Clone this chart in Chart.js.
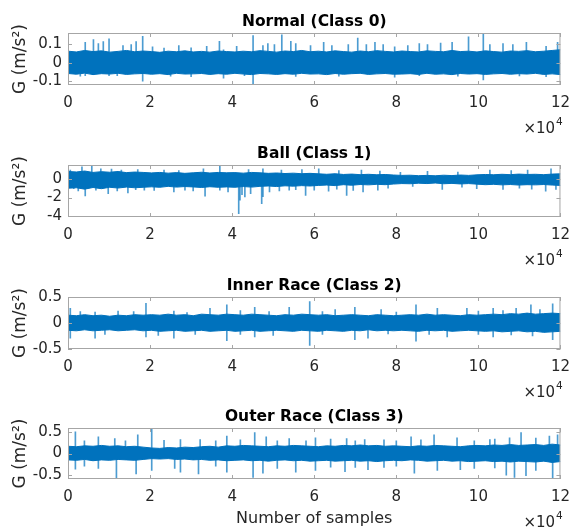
<!DOCTYPE html>
<html>
<head>
<meta charset="utf-8">
<script src="https://cdn.jsdelivr.net/npm/chart.js@4.4.1/dist/chart.umd.min.js"></script>
<style>
	html, body { margin: 0; padding: 0; background: #fff; }
	body { width: 579px; height: 530px; position: relative; overflow: hidden; }
	.painel { position: absolute; left: 0; width: 579px; }
</style>
</head>
<body>
<div class="painel" style="top:0;height:140px"><canvas id="g0"></canvas></div>
<div class="painel" style="top:132px;height:140px"><canvas id="g1"></canvas></div>
<div class="painel" style="top:264px;height:140px"><canvas id="g2"></canvas></div>
<div class="painel" style="top:395px;height:135px"><canvas id="g3"></canvas></div>
<script>
// Títulos e eixos
const titulos = ["Normal (Class 0)", "Ball (Class 1)", "Inner Race (Class 2)", "Outer Race (Class 3)"];
const ticksX = [0, 20000, 40000, 60000, 80000, 100000, 120000];
const ticksY0 = [-0.1, 0, 0.1];
const ticksY1 = [-4, -2, 0];
const ticksY2 = [-0.5, 0, 0.5];
const ticksY3 = [-0.5, 0, 0.5];
const limitesY = [[-0.12, 0.16], [-4.1, 1.5], [-0.5, 0.5], [-0.6, 0.6]];

// Envelope do núcleo do sinal (60 blocos de 2000 amostras)
const nucleoMax0 = [0.062,0.058,0.066,0.060,0.064,0.057,0.061,0.066,0.059,0.063,0.060,0.056,0.062,0.059,0.064,0.058,0.061,0.057,0.063,0.060,0.058,0.062,0.059,0.065,0.061,0.057,0.063,0.060,0.066,0.059,0.062,0.058,0.064,0.060,0.057,0.063,0.059,0.065,0.061,0.058,0.063,0.060,0.058,0.064,0.061,0.059,0.066,0.060,0.062,0.058,0.064,0.060,0.057,0.063,0.061,0.065,0.059,0.062,0.066,0.070];
const nucleoMin0 = [-0.058,-0.062,-0.056,-0.064,-0.059,-0.061,-0.057,-0.063,-0.060,-0.058,-0.062,-0.059,-0.064,-0.057,-0.061,-0.060,-0.058,-0.063,-0.059,-0.062,-0.057,-0.061,-0.064,-0.058,-0.060,-0.063,-0.059,-0.062,-0.057,-0.061,-0.060,-0.064,-0.058,-0.062,-0.059,-0.057,-0.063,-0.060,-0.058,-0.062,-0.061,-0.059,-0.063,-0.057,-0.062,-0.060,-0.064,-0.058,-0.061,-0.059,-0.063,-0.060,-0.058,-0.062,-0.059,-0.061,-0.057,-0.063,-0.060,-0.064];
const nucleoMax1 = [0.80,0.75,0.85,0.70,0.78,0.72,0.80,0.68,0.74,0.70,0.65,0.70,0.62,0.68,0.60,0.66,0.72,0.64,0.70,0.66,0.68,0.62,0.70,0.66,0.60,0.64,0.58,0.62,0.56,0.60,0.55,0.50,0.56,0.48,0.52,0.46,0.50,0.45,0.48,0.42,0.38,0.40,0.35,0.38,0.34,0.40,0.36,0.42,0.38,0.44,0.48,0.45,0.50,0.46,0.52,0.48,0.50,0.46,0.52,0.55];
const nucleoMin1 = [-1.00,-0.95,-1.10,-0.92,-1.05,-0.90,-0.98,-0.88,-0.95,-0.90,-0.85,-0.90,-0.80,-0.88,-0.82,-0.86,-0.92,-0.84,-0.90,-0.86,-0.90,-0.82,-0.88,-0.80,-0.76,-0.82,-0.74,-0.78,-0.72,-0.76,-0.70,-0.66,-0.72,-0.62,-0.68,-0.60,-0.64,-0.58,-0.62,-0.55,-0.50,-0.52,-0.46,-0.50,-0.44,-0.52,-0.48,-0.54,-0.50,-0.56,-0.62,-0.58,-0.64,-0.60,-0.66,-0.62,-0.64,-0.60,-0.66,-0.70];
const nucleoMax2 = [0.15,0.14,0.16,0.14,0.15,0.13,0.15,0.14,0.16,0.15,0.16,0.15,0.17,0.15,0.16,0.14,0.17,0.16,0.15,0.17,0.16,0.15,0.17,0.16,0.15,0.14,0.16,0.15,0.17,0.16,0.15,0.16,0.14,0.15,0.16,0.15,0.14,0.16,0.15,0.14,0.15,0.16,0.15,0.17,0.15,0.16,0.15,0.14,0.16,0.15,0.16,0.17,0.16,0.18,0.17,0.19,0.17,0.18,0.19,0.18];
const nucleoMin2 = [-0.14,-0.15,-0.13,-0.15,-0.14,-0.13,-0.15,-0.14,-0.13,-0.15,-0.14,-0.16,-0.15,-0.14,-0.16,-0.15,-0.14,-0.16,-0.15,-0.14,-0.16,-0.15,-0.14,-0.16,-0.15,-0.14,-0.15,-0.16,-0.14,-0.15,-0.16,-0.14,-0.15,-0.16,-0.14,-0.15,-0.13,-0.15,-0.14,-0.15,-0.14,-0.15,-0.16,-0.14,-0.15,-0.14,-0.16,-0.15,-0.14,-0.15,-0.16,-0.15,-0.17,-0.16,-0.15,-0.17,-0.16,-0.18,-0.17,-0.16];
const nucleoMax3 = [0.17,0.16,0.18,0.17,0.19,0.17,0.18,0.16,0.17,0.15,0.13,0.12,0.14,0.13,0.15,0.14,0.16,0.17,0.15,0.18,0.17,0.19,0.18,0.17,0.16,0.18,0.17,0.19,0.18,0.17,0.16,0.18,0.17,0.19,0.18,0.20,0.18,0.19,0.17,0.18,0.17,0.16,0.18,0.17,0.19,0.18,0.17,0.16,0.18,0.19,0.18,0.20,0.19,0.21,0.19,0.20,0.21,0.19,0.22,0.20];
const nucleoMin3 = [-0.15,-0.16,-0.14,-0.17,-0.15,-0.16,-0.14,-0.15,-0.16,-0.14,-0.12,-0.13,-0.12,-0.14,-0.13,-0.15,-0.14,-0.16,-0.15,-0.17,-0.16,-0.15,-0.17,-0.16,-0.18,-0.16,-0.15,-0.17,-0.16,-0.18,-0.17,-0.16,-0.18,-0.17,-0.16,-0.18,-0.17,-0.19,-0.17,-0.16,-0.17,-0.15,-0.16,-0.18,-0.17,-0.16,-0.18,-0.17,-0.19,-0.18,-0.17,-0.19,-0.18,-0.20,-0.18,-0.19,-0.20,-0.18,-0.21,-0.19];

// Picos isolados: amostra, mínimo e máximo
const picosX0 = [3000,4200,6200,7400,8600,10000,12000,13400,15400,16600,18200,20600,23400,25000,27000,30000,33800,36900,37900,41100,43000,45100,47500,48700,50300,52100,54300,55500,59100,62300,64300,66000,68300,70600,72700,74800,76800,79600,82800,85600,87600,90800,93600,95000,97600,101200,102800,106000,108400,110000,111700,116500,119300];
const picosMin0 = [-0.072,-0.07,-0.065,0,0,-0.07,-0.07,0,0,0,-0.10,0,0,-0.072,0,-0.075,0,0,-0.083,0,-0.07,-0.119,0,0,0,0,0,-0.074,0,0,0,-0.072,0,0,0,0,0,-0.078,0,-0.07,0,0,0,-0.072,0,-0.092,0,0,0,-0.071,0,-0.075,0];
const picosMax0 = [0,0.110,0.124,0.103,0.114,0.128,0,0.092,0.097,0.114,0.142,0.085,0.079,0,0.092,0.080,0.088,0.115,0.070,0.088,0,0.146,0.092,0.103,0.097,0.150,0.115,0.103,0.092,0.110,0.092,0,0.097,0.133,0.097,0.110,0.097,0.085,0.092,0.103,0.097,0.106,0.110,0,0.139,0.160,0.097,0.103,0.097,0,0.110,0.088,0.110];

const picosX1 = [560,1400,2500,3400,4200,5800,6800,8000,9800,10600,12000,13000,14600,16500,17000,18600,21000,23400,25800,27000,28500,30500,33000,33400,37000,39000,41600,41900,42400,43100,44000,44500,47200,47500,49100,51500,52000,53900,55500,57000,57900,60000,61100,63500,65500,66000,67900,69500,71500,71900,75500,76000,78000,81000,84000,87600,91200,95000,96000,99600,102800,106000,108000,110000,112000,113000,116400,117700,118900];
const picosMin1 = [0,-1.05,-1.3,0,-1.84,0,-1.2,0,-1.6,0,-1.3,0,-1.5,-1.15,0,-1.22,-1.25,0,-1.41,0,-1.2,-1.3,0,-1.87,-1.22,-1.4,-3.75,-2.3,-1.7,-1.95,0,-1.6,-2.67,-1.9,-1.41,-1.3,0,-1.22,-1.15,0,-1.77,-1.2,0,-1.33,-1.1,0,-1.77,-1.25,0,-1.41,-1.22,0,-1.0,0,-0.8,0,-1.12,0,-0.9,-1.05,0,-1.12,0,-1.0,0,-1.1,-1.33,0,-1.12];
const picosMax1 = [0.94,0,0,1.3,0,1.4,0,1.1,0,1.05,0,0.95,0,0,1.0,0,0,0.94,0,0.9,0,0,1.1,0,1.48,0,0,0,0,0,1.0,0,0,1.1,0,0,0.95,0,0,1.0,0,0,1.1,0,0,0.9,0,0,0.94,0,0,0.85,0,0.7,0,0.83,0,0.75,0,0,0.94,0,0.9,0,0.95,0,0,1.1,0];

const picosX2 = [560,3000,6600,9000,12200,16000,19000,22000,25800,29000,31000,34600,38700,42000,45500,49000,50000,53900,58900,62000,65100,69900,73100,76300,78000,80000,84800,88000,90000,92400,97200,100000,103600,106000,108000,109200,112800,113200,115000,118100];
const picosMin2 = [-0.29,0,-0.29,-0.22,0,0,-0.27,-0.24,-0.29,0,-0.22,0,-0.34,-0.22,-0.27,0,-0.24,0,-0.43,-0.22,0,-0.32,-0.29,0,-0.21,0,-0.35,-0.22,0,-0.27,0,-0.22,-0.27,0,-0.23,0,0,-0.25,0,-0.32];
const picosMax2 = [0.28,0.22,0.21,0,0.23,0.22,0.38,0,0.23,0.20,0,0.28,0.35,0.24,0.30,0.22,0,0.30,0.41,0.22,0.26,0.30,0,0.26,0,0.21,0.35,0,0.28,0,0.28,0.23,0.28,0.24,0,0.28,0.35,0,0.26,0.37];

const picosX3 = [1800,4000,7400,11400,11800,14000,16600,17000,20400,23400,26000,27400,31800,32200,36000,38700,42000,45100,45500,47500,48300,51000,53900,55500,58000,60300,64000,67500,67900,70000,72300,73100,77000,80000,83600,84400,86000,89200,90000,94800,95600,99000,102800,104000,106800,107600,108800,110400,111600,114000,117300,118100,119300];
const picosMin3 = [-0.37,-0.30,-0.35,0,-0.62,0,-0.48,0,-0.40,0,-0.35,-0.44,-0.48,0,-0.30,-0.44,0,-0.56,0,-0.46,0,-0.35,0,-0.44,0,-0.40,-0.32,-0.43,0,-0.33,0,-0.38,-0.33,-0.30,0,-0.46,0,0,-0.40,0,-0.38,-0.35,0,-0.34,-0.51,0,-0.56,0,-0.52,-0.40,0,-0.62,0];
const picosMax3 = [0.51,0.30,0.39,0.35,0,0.30,0,0.44,0.59,0.31,0,0.33,0,0.33,0.30,0.41,0.32,0,0.49,0,0.39,0.30,0.35,0,0.30,0.37,0.34,0,0.35,0.30,0.33,0,0.32,0.30,0.39,0,0.32,0.44,0,0.37,0,0.30,0.33,0.34,0,0.37,0,0.49,0,0.36,0.41,0,0.44];

const azul = "#0072bd";
const azulPico = "rgba(0, 114, 189, 0.7)";
const totalAmostras = 120000;

Chart.defaults.font.family = '"DejaVu Sans", sans-serif';
Chart.defaults.font.size = 15;
Chart.defaults.color = "#262626";

// Caixa, marcas internas e textos no estilo MATLAB
const moldura = {
	id: "moldura",
	afterDraw(chart, args, opts) {
		const { ctx, chartArea: a, scales } = chart;
		ctx.save();
		ctx.strokeStyle = "#a6a6a6";
		ctx.lineWidth = 1;
		ctx.strokeRect(a.left + 0.5, a.top + 0.5, a.width - 1, a.height - 1);
		ctx.beginPath();
		for (const t of scales.x.ticks) {
			const px = Math.round(scales.x.getPixelForValue(t.value)) + 0.5;
			ctx.moveTo(px, a.top);
			ctx.lineTo(px, a.top + 4);
			ctx.moveTo(px, a.bottom);
			ctx.lineTo(px, a.bottom - 4);
		}
		for (const t of scales.y.ticks) {
			const py = Math.round(scales.y.getPixelForValue(t.value)) + 0.5;
			ctx.moveTo(a.left, py);
			ctx.lineTo(a.left + 4, py);
			ctx.moveTo(a.right, py);
			ctx.lineTo(a.right - 4, py);
		}
		ctx.stroke();

		const meio = (a.left + a.right) / 2;
		ctx.fillStyle = "#000";
		ctx.font = 'bold 15.5px "DejaVu Sans"';
		ctx.textAlign = "center";
		ctx.textBaseline = "alphabetic";
		ctx.fillText(opts.titulo, meio, a.top - 7.5);

		ctx.fillStyle = "#262626";
		ctx.font = '15px "DejaVu Sans"';
		ctx.textAlign = "left";
		const base = a.bottom + 47.5;
		const x0 = a.right - 37;
		ctx.fillText("×10", x0, base);
		const w = ctx.measureText("×10").width;
		ctx.font = '10.5px "DejaVu Sans"';
		ctx.fillText("4", x0 + w + 1, base - 7.5);

		if (opts.rotuloX) {
			ctx.font = '16px "DejaVu Sans"';
			ctx.textAlign = "center";
			ctx.fillText(opts.rotuloX, meio, a.bottom + 44);
		}
		ctx.restore();
	},
};

const paineis = [
	{ max: nucleoMax0, min: nucleoMin0, px: picosX0, pmin: picosMin0, pmax: picosMax0, ticks: ticksY0 },
	{ max: nucleoMax1, min: nucleoMin1, px: picosX1, pmin: picosMin1, pmax: picosMax1, ticks: ticksY1 },
	{ max: nucleoMax2, min: nucleoMin2, px: picosX2, pmin: picosMin2, pmax: picosMax2, ticks: ticksY2 },
	{ max: nucleoMax3, min: nucleoMin3, px: picosX3, pmin: picosMin3, pmax: picosMax3, ticks: ticksY3 },
];

const criarPainel = (p, i) => {
	const n = p.max.length;
	const posBloco = (k) => (k * totalAmostras) / (n - 1);
	const alturaEixoX = i === 3 ? 51 : 55;

	new Chart(document.getElementById(`g${i}`), {
		type: "line",
		data: {
			datasets: [
				{
					type: "line",
					data: p.max.map((v, k) => ({ x: posBloco(k), y: v })),
					borderColor: azul,
					backgroundColor: azul,
					borderWidth: 1,
					pointRadius: 0,
					tension: 0,
					fill: "+1",
				},
				{
					type: "line",
					data: p.min.map((v, k) => ({ x: posBloco(k), y: v })),
					borderColor: azul,
					borderWidth: 1,
					pointRadius: 0,
					tension: 0,
					fill: false,
				},
				{
					type: "bar",
					data: p.px.map((x, k) => ({ x, y: [p.pmin[k], p.pmax[k]] })),
					backgroundColor: azulPico,
					barThickness: 1,
				},
			],
		},
		options: {
			responsive: true,
			maintainAspectRatio: false,
			animation: false,
			layout: { padding: { top: 33, left: 0, right: 12, bottom: 0 } },
			plugins: {
				legend: { display: false },
				tooltip: { enabled: false },
				moldura: { titulo: titulos[i], rotuloX: i === 3 ? "Number of samples" : null },
			},
			scales: {
				x: {
					type: "linear",
					min: 0,
					max: totalAmostras,
					offset: false,
					grid: { display: false, drawTicks: false },
					border: { display: false },
					afterBuildTicks: (s) => { s.ticks = ticksX.map((v) => ({ value: v })); },
					afterFit: (s) => { s.height = alturaEixoX; },
					ticks: {
						padding: 9,
						maxRotation: 0,
						autoSkip: false,
						callback: (v) => String(v / 10000),
					},
				},
				y: {
					min: limitesY[i][0],
					max: limitesY[i][1],
					grid: { display: false, drawTicks: false },
					border: { display: false },
					afterBuildTicks: (s) => { s.ticks = p.ticks.map((v) => ({ value: v })); },
					afterFit: (s) => { s.width = 68; },
					ticks: { padding: 6, autoSkip: false, callback: (v) => String(v) },
					title: {
						display: true,
						text: "G (m/s²)",
						font: { size: 17 },
						padding: { top: 10, bottom: 0 },
					},
				},
			},
		},
		plugins: [moldura],
	});
};

paineis.forEach(criarPainel);
</script>
</body>
</html>
